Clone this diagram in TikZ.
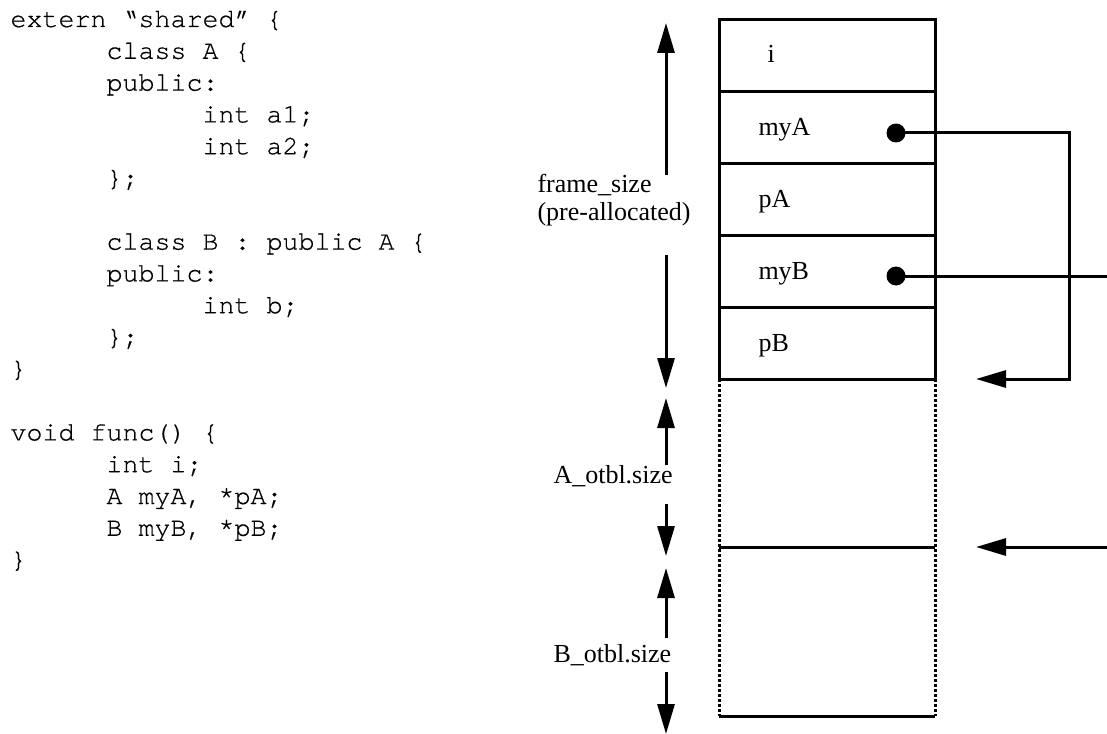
\documentclass[tikz,border=0pt]{standalone}
\usepackage{fontspec}
\setmainfont{Liberation Serif}
\newfontfamily\codefont[FakeBold=0.5]{TeX Gyre Cursor}
\usetikzlibrary{arrows.meta}
\begin{document}
\begin{tikzpicture}[x=1bp,y=-1bp, line width=3bp,
  code/.style={font=\codefont\fontsize{26.67bp}{32bp}\selectfont, anchor=base west, inner sep=0pt},
  lbl/.style={font=\fontsize{26bp}{30bp}\selectfont, anchor=base west, inner sep=0pt},
  tip/.style={-{Triangle[length=30bp,width=17bp]}},
  dot/.style={circle, fill, inner sep=0pt, minimum size=19bp},
  dashedline/.style={dash pattern=on 3bp off 2bp}]
\useasboundingbox (0,0) rectangle (1107,734);

% code
\node[code] (c0)  at (9,27)        {extern “shared” \{};
\node[code] (c1)  at (105,58.8)    {class A \{};
\node[code] (c2)  at (105,90.6)    {public:};
\node[code] (c3)  at (201,122.4)   {int a1;};
\node[code] (c4)  at (201,154.2)   {int a2;};
\node[code] (c5)  at (105,186)     {\};};
\node[code] (c7)  at (105,249.6)   {class B : public A \{};
\node[code] (c8)  at (105,281.4)   {public:};
\node[code] (c9)  at (201,313.2)   {int b;};
\node[code] (c10) at (105,345)     {\};};
\node[code] (c11) at (9,376.8)     {\}};
\node[code] (c13) at (9,440.4)     {void func() \{};
\node[code] (c14) at (105,472.2)   {int i;};
\node[code] (c15) at (105,504)     {A myA, *pA;};
\node[code] (c16) at (105,535.8)   {B myB, *pB;};
\node[code] (c17) at (9,567.6)     {\}};

% frame
\draw (719,20) rectangle (935,379);
\foreach \y in {91.8,163.6,235.4,307.2} \draw (719,\y) -- (935,\y);
\draw[dashedline] (719,379) -- (719,716);
\draw[dashedline] (935,379) -- (935,716);
\draw (719,547) -- (935,547);
\draw (719,716) -- (935,716);

\node[lbl] (li)   at (766,63)    {i};
\node[lbl] (lmyA) at (757,135.7) {myA};
\node[lbl] (lpA)  at (757,207.5) {pA};
\node[lbl] (lmyB) at (757,279.3) {myB};
\node[lbl] (lpB)  at (757,351)   {pB};

% size labels
\node[lbl] (fs1) at (536,193) {frame\_size};
\node[lbl] (fs2) at (536,221) {(pre-allocated)};
\node[lbl] (as)  at (552,483) {A\_otbl.size};
\node[lbl] (bs)  at (552,662) {B\_otbl.size};

\coordinate (f1) at (666,175); \coordinate (f1t) at (666,23);
\coordinate (f2) at (666,255); \coordinate (f2t) at (666,388);
\coordinate (a1) at (666,465); \coordinate (a1t) at (666,398);
\coordinate (a2) at (666,504); \coordinate (a2t) at (666,556);
\coordinate (b1) at (666,638); \coordinate (b1t) at (666,568);
\coordinate (b2) at (666,672); \coordinate (b2t) at (666,734);
\draw[tip] (f1) -- (f1t);
\draw[tip] (f2) -- (f2t);
\draw[tip] (a1) -- (a1t);
\draw[tip] (a2) -- (a2t);
\draw[tip] (b1) -- (b1t);
\draw[tip] (b2) -- (b2t);

% pointers
\node[dot] (dA) at (896,133) {};
\node[dot] (dB) at (896,276) {};
\coordinate (cA) at (1069,133);
\coordinate (tA) at (976,379);
\draw[tip] (dA.center) -- (cA) |- (tA);
\coordinate (eB) at (1107,276);
\draw (dB.center) -- (eB);
\coordinate (eC) at (1107,547);
\coordinate (tC) at (976,547);
\draw[tip] (eC) -- (tC);
\end{tikzpicture}
\end{document}
